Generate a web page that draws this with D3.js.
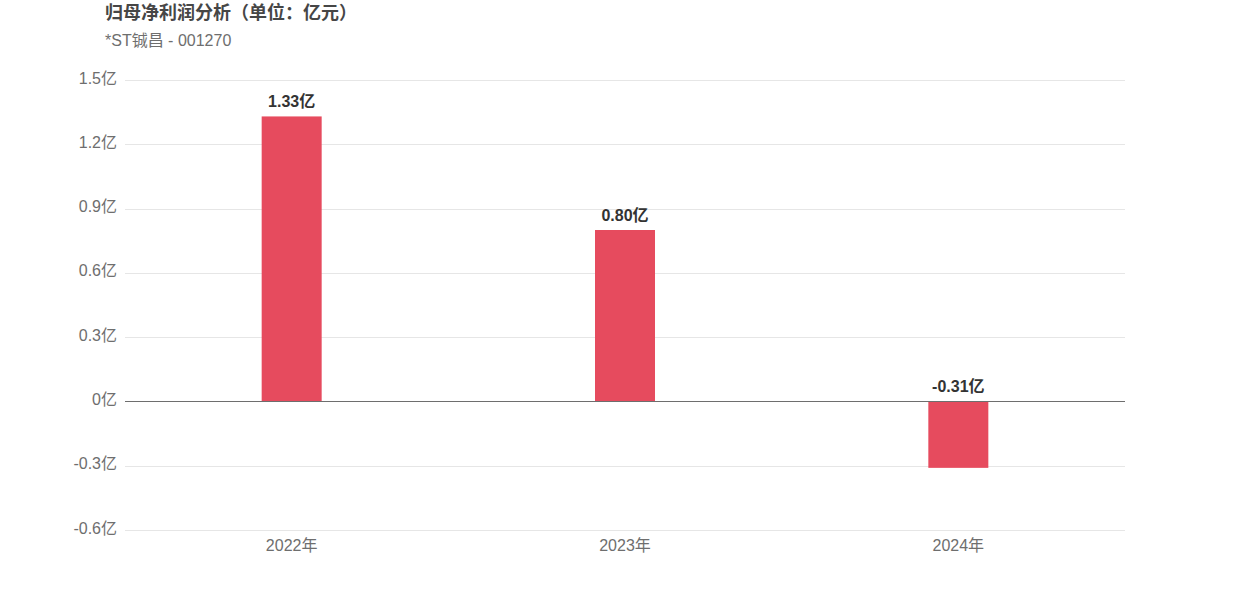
<!DOCTYPE html>
<html lang="zh">
<head>
<meta charset="utf-8">
<title>归母净利润分析</title>
<script src="https://cdn.jsdelivr.net/npm/d3@7"></script>
<style>
  body { margin: 0; background: #fff; }
  text { font-family: "Liberation Sans", "Noto Sans CJK SC", sans-serif; }
</style>
</head>
<body>
<script>
// data
var categories = ["2022年", "2023年", "2024年"];
var values = [1.33, 0.80, -0.31];
var yTicks = [-0.6, -0.3, 0, 0.3, 0.6, 0.9, 1.2, 1.5];

var w = 1250, h = 600;
var plotLeft = 125, plotRight = 1125, plotTop = 80, plotBottom = 530;

var svg = d3.select("body").append("svg")
  .attr("width", w)
  .attr("height", h);

// title
svg.append("text")
  .attr("x", 105).attr("y", 19)
  .attr("font-size", 18).attr("font-weight", "bold")
  .attr("fill", "#464646")
  .text("归母净利润分析（单位：亿元）");

svg.append("text")
  .attr("x", 105).attr("y", 46)
  .attr("font-size", 16)
  .attr("fill", "#6e6e6e")
  .text("*ST铖昌 - 001270");

var x = d3.scaleBand()
  .domain(categories)
  .range([plotLeft, plotRight]);

var y = d3.scaleLinear()
  .domain([-0.6, 1.5])
  .range([plotBottom, plotTop]);

// grid lines
svg.append("g").selectAll("line")
  .data(yTicks.filter(function(d) { return d !== 0; }))
  .enter().append("line")
  .attr("x1", plotLeft).attr("x2", plotRight)
  .attr("y1", function(d) { return Math.round(y(d)) + 0.5; })
  .attr("y2", function(d) { return Math.round(y(d)) + 0.5; })
  .attr("stroke", "#e6e6e6");

// y labels
svg.append("g").selectAll("text")
  .data(yTicks)
  .enter().append("text")
  .attr("x", 117)
  .attr("y", function(d) { return y(d) - 2; })
  .attr("dy", "0.35em")
  .attr("text-anchor", "end")
  .attr("font-size", 16)
  .attr("fill", "#6e6e6e")
  .text(function(d) { return (+d.toFixed(1)) + "亿"; });

// bars
var barW = 60;
svg.append("g").selectAll("rect")
  .data(values)
  .enter().append("rect")
  .attr("x", function(d, i) { return x(categories[i]) + x.bandwidth() / 2 - barW / 2; })
  .attr("y", function(d) { return y(Math.max(0, d)); })
  .attr("width", barW)
  .attr("height", function(d) { return Math.abs(y(d) - y(0)); })
  .attr("fill", "#e64b5e");

// zero line
svg.append("line")
  .attr("x1", plotLeft).attr("x2", plotRight)
  .attr("y1", Math.round(y(0)) + 0.5).attr("y2", Math.round(y(0)) + 0.5)
  .attr("stroke", "#6e6e6e");

// value labels
svg.append("g").selectAll("text")
  .data(values)
  .enter().append("text")
  .attr("x", function(d, i) { return x(categories[i]) + x.bandwidth() / 2; })
  .attr("y", function(d) { return y(Math.max(0, d)) - 9; })
  .attr("text-anchor", "middle")
  .attr("font-size", 16)
  .attr("font-weight", "bold")
  .attr("fill", "#333")
  .text(function(d) { return d.toFixed(2) + "亿"; });

// x labels
svg.append("g").selectAll("text")
  .data(categories)
  .enter().append("text")
  .attr("x", function(d) { return x(d) + x.bandwidth() / 2; })
  .attr("y", 551)
  .attr("text-anchor", "middle")
  .attr("font-size", 16)
  .attr("fill", "#6e6e6e")
  .text(function(d) { return d; });
</script>
</body>
</html>
